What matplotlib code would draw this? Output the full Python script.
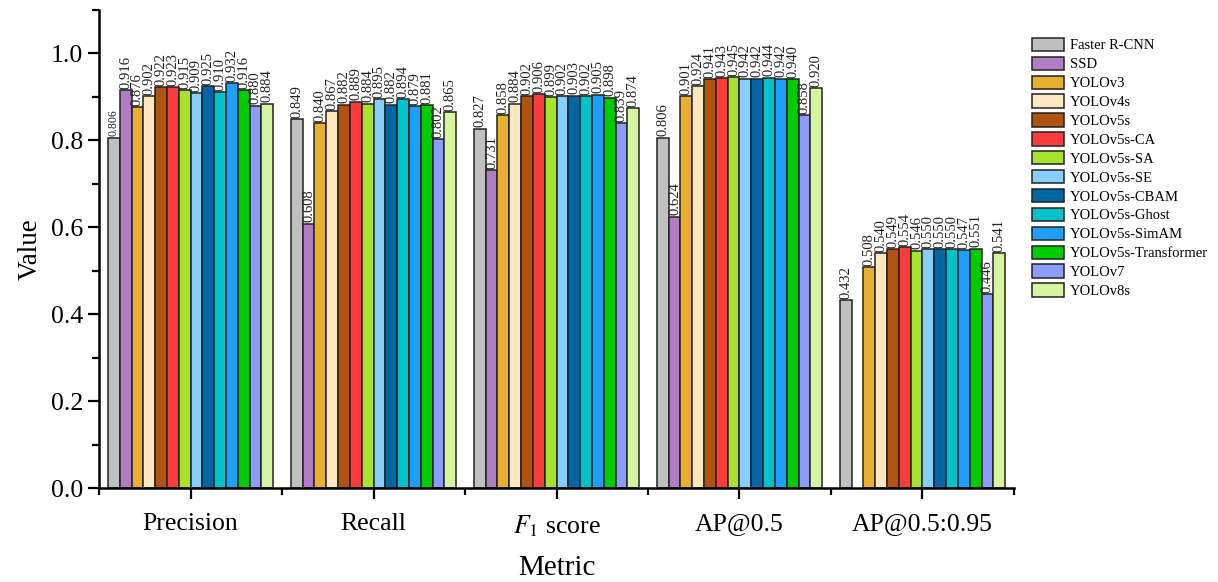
import numpy as np
import matplotlib
matplotlib.use("Agg")
import matplotlib.pyplot as plt
from matplotlib.ticker import MultipleLocator, FixedLocator

plt.rcParams['font.family'] = ['Liberation Serif', 'DejaVu Serif']
plt.rcParams['mathtext.fontset'] = 'stix'

metrics = ["Precision", "Recall", r"$F_1$ score", "AP@0.5", "AP@0.5:0.95"]
models = ["Faster R-CNN", "SSD", "YOLOv3", "YOLOv4s", "YOLOv5s", "YOLOv5s-CA",
          "YOLOv5s-SA", "YOLOv5s-SE", "YOLOv5s-CBAM", "YOLOv5s-Ghost",
          "YOLOv5s-SimAM", "YOLOv5s-Transformer", "YOLOv7", "YOLOv8s"]

precision = [0.806, 0.916, 0.876, 0.902, 0.922, 0.923, 0.915, 0.909, 0.925, 0.910, 0.932, 0.916, 0.880, 0.884]
recall    = [0.849, 0.608, 0.840, 0.867, 0.882, 0.889, 0.884, 0.895, 0.882, 0.894, 0.879, 0.881, 0.802, 0.865]
f1_score  = [0.827, 0.731, 0.858, 0.884, 0.902, 0.906, 0.899, 0.902, 0.903, 0.902, 0.905, 0.898, 0.839, 0.874]
ap50      = [0.806, 0.624, 0.901, 0.924, 0.941, 0.943, 0.945, 0.942, 0.942, 0.944, 0.942, 0.940, 0.858, 0.920]
ap50_95   = [0.432, np.nan, 0.508, 0.540, 0.549, 0.554, 0.546, 0.550, 0.550, 0.550, 0.547, 0.551, 0.446, 0.541]

colors = ["#c0c0c0", "#b07cc6", "#e8b030", "#fde7c0", "#b0530e", "#fa3c3c",
          "#a6e22e", "#87cefa", "#0066a6", "#00c2c8", "#1e9fff", "#00cc00",
          "#8c9cfa", "#d6f5a0"]

values = np.array([precision, recall, f1_score, ap50, ap50_95])  # metrics x models

fig = plt.figure(figsize=(12.18, 5.82), dpi=100)
ax = fig.add_axes([0.0813, 0.1615, 0.7512, 0.8215])

n = len(models)
width = 0.0645
x = np.arange(len(metrics))
offsets = (np.arange(n) - (n - 1) / 2) * width

for j, (name, col) in enumerate(zip(models, colors)):
    vals = values[:, j]
    pos = x + offsets[j]
    ax.bar(pos, vals, width=width, color=col, edgecolor="#222222",
           linewidth=1.1, label=name, zorder=2)
    for i, (px, v) in enumerate(zip(pos, vals)):
        if np.isnan(v):
            continue
        fs = 8.5 if (i == 0 and j == 0) else 10.5
        ax.text(px, v + 0.003, f"{v:.3f}", rotation=90, ha="center",
                va="bottom", fontsize=fs, color="#222222", zorder=3)

ax.set_xlim(-0.5, 4.5)
ax.set_ylim(0, 1.1)
ax.yaxis.set_major_locator(FixedLocator([0, 0.2, 0.4, 0.6, 0.8, 1.0]))
ax.yaxis.set_minor_locator(MultipleLocator(0.1))
ax.set_xticks(x)
ax.set_xticklabels(metrics)
ax.xaxis.set_minor_locator(FixedLocator(np.arange(-0.5, 4.6, 1.0)))

for s in ["top", "right"]:
    ax.spines[s].set_visible(False)
for s in ["left", "bottom"]:
    ax.spines[s].set_linewidth(1.8)

ax.tick_params(axis="both", which="major", direction="out", length=8,
               width=1.6, labelsize=18.5)
ax.tick_params(axis="both", which="minor", direction="out", length=5, width=1.6)
ax.tick_params(axis="x", pad=10)

ax.set_xlabel("Metric", fontsize=21, labelpad=12)
ax.set_ylabel("Value", fontsize=19.5, labelpad=6)

fig.legend(loc="upper left", bbox_to_anchor=(0.847, 0.935), frameon=False,
           fontsize=10.5, handlelength=2.2, handleheight=1.03,
           labelspacing=0.29, handletextpad=0.4, borderaxespad=0, borderpad=0)

fig.savefig("out.png", dpi=100)
